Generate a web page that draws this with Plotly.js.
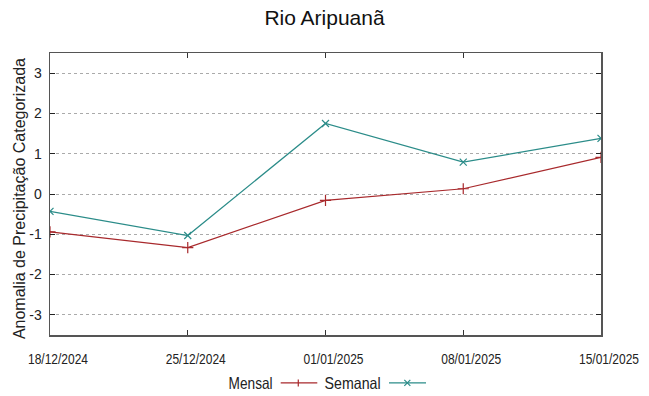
<!DOCTYPE html>
<html>
<head>
<meta charset="utf-8">
<script src="https://cdn.plot.ly/plotly-3.0.1.min.js"></script>
<style>html,body{margin:0;padding:0;background:#fff;}#chart{width:649px;height:396px;}</style>
</head>
<body>
<div id="chart"></div>
<script>
const dates = ['2024-12-18', '2024-12-25', '2025-01-01', '2025-01-08', '2025-01-15'];
const tickLabels = ['18/12/2024', '25/12/2024', '01/01/2025', '08/01/2025', '15/01/2025'];
const mensal = [-0.94, -1.33, -0.16, 0.13, 0.91];
const semanal = [-0.43, -1.03, 1.75, 0.79, 1.38];
const yTicks = [-3, -2, -1, 0, 1, 2, 3];

const cRed = '#a8292c';
const cTeal = '#2b8c89';
const reg = '"Liberation Sans", Arial, sans-serif';

// legend geometry (paper coordinates of the plot area)
const lgY = -0.170;
const lgMensal = [0.4187, 0.4851];
const lgSemanal = [0.6152, 0.6824];

const traces = [
  {x: dates, y: mensal, type: 'scatter', mode: 'lines+markers', name: 'Mensal',
   line: {color: cRed, width: 1.2},
   marker: {symbol: 'cross-thin-open', size: 8, line: {color: cRed, width: 1.2}}},
  {x: dates, y: semanal, type: 'scatter', mode: 'lines+markers', name: 'Semanal',
   line: {color: cTeal, width: 1.2},
   marker: {symbol: 'x-thin-open', size: 7, line: {color: cTeal, width: 1.2}}}
];

function seg(x, y, dx0, dy0, dx1, dy1, color) {
  return {type: 'line', xref: 'paper', yref: 'paper', xsizemode: 'pixel', ysizemode: 'pixel',
          xanchor: x, yanchor: y, x0: dx0, x1: dx1, y0: dy0, y1: dy1, line: {color: color, width: 1.2}};
}
const mx = 0.4506;
const sx = 0.6485;

const layout = {
  width: 649, height: 396,
  margin: {l: 50, r: 48, t: 53, b: 61},
  paper_bgcolor: '#fff', plot_bgcolor: '#fff',
  showlegend: false,
  title: {text: 'Rio Aripuanã', font: {family: reg, size: 21, color: '#111'}, x: 0.5, xanchor: 'center', y: 0.955, yanchor: 'middle'},
  xaxis: {
    type: 'date', range: [dates[0], dates[dates.length - 1]],
    tickvals: dates, ticktext: tickLabels,
    tickfont: {family: reg, size: 14.5, color: '#222'},
    showgrid: false, zeroline: false,
    showline: true, linecolor: '#555', linewidth: 1.5, mirror: 'ticks',
    ticks: 'inside', ticklen: 5, tickcolor: '#333', tickwidth: 1,
    ticklabelstandoff: 10
  },
  yaxis: {
    range: [-3.5, 3.5], tickvals: yTicks, ticktext: yTicks.map(String),
    tickfont: {family: reg, size: 14, color: '#222'},
    showgrid: true, gridcolor: '#aaa', griddash: 'dot', gridwidth: 1,
    zeroline: false,
    showline: true, linecolor: '#555', linewidth: 1.5, mirror: 'ticks',
    ticks: 'inside', ticklen: 5, tickcolor: '#222', tickwidth: 1,
    ticklabelstandoff: 4
  },
  shapes: [
    {type: 'line', xref: 'paper', yref: 'paper', x0: lgMensal[0], x1: lgMensal[1], y0: lgY, y1: lgY, line: {color: cRed, width: 1.2}},
    {type: 'line', xref: 'paper', yref: 'paper', x0: lgSemanal[0], x1: lgSemanal[1], y0: lgY, y1: lgY, line: {color: cTeal, width: 1.2}},
    seg(mx, lgY, 0, -3.5, 0, 3.5, cRed),
    seg(sx, lgY, -3, -3, 3, 3, cTeal),
    seg(sx, lgY, -3, 3, 3, -3, cTeal)
  ],
  annotations: [
    {text: 'Anomalia de Precipitação Categorizada', xref: 'paper', yref: 'paper', x: -0.0563, y: 0.4853,
     xanchor: 'center', yanchor: 'middle', textangle: -90, showarrow: false,
     font: {family: reg, size: 16, color: '#222'}},
    {text: 'Mensal', xref: 'paper', yref: 'paper', x: 0.3639, y: lgY, xanchor: 'center', yanchor: 'middle', showarrow: false,
     font: {family: reg, size: 16.5, color: '#222'}},
    {text: 'Semanal', xref: 'paper', yref: 'paper', x: 0.5495, y: lgY, xanchor: 'center', yanchor: 'middle', showarrow: false,
     font: {family: reg, size: 16.5, color: '#222'}}
  ]
};

function squeeze(nodes, len, dx) {
  nodes.forEach(t => {
    t.setAttribute('textLength', len);
    t.setAttribute('lengthAdjust', 'spacingAndGlyphs');
    if (dx) t.setAttribute('dx', dx);
  });
}

Plotly.newPlot('chart', traces, layout, {displayModeBar: false, staticPlot: true}).then(gd => {
  squeeze(gd.querySelectorAll('.xtick text'), 60, 8);
  const ann = gd.querySelectorAll('.annotation-text');
  if (ann[1]) squeeze([ann[1]], 44);
  if (ann[2]) squeeze([ann[2]], 56);
});
</script>
</body>
</html>
